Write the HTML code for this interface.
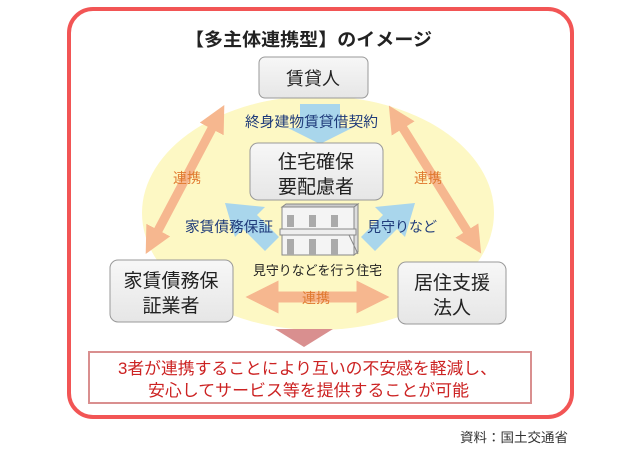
<!DOCTYPE html>
<html><head><meta charset="utf-8"><style>
body{margin:0;background:#fff;}
svg text{font-family:"Liberation Sans","Noto Sans CJK JP",sans-serif;}
</style></head><body>
<svg width="640" height="450" viewBox="0 0 640 450" xmlns="http://www.w3.org/2000/svg">
<defs>
<linearGradient id="g" x1="0" y1="0" x2="0" y2="1"><stop offset="0" stop-color="#f7f7f7"/><stop offset="1" stop-color="#e6e6e6"/></linearGradient>
<marker id="oa" viewBox="0 0 10 10" refX="5" refY="5" markerWidth="3" markerHeight="3" orient="auto-start-reverse"><path d="M0,0L10,5L0,10z" fill="#f6b78f"/></marker>
</defs>
<rect x="69" y="9" width="503" height="408" rx="24" fill="#fff" stroke="#f25555" stroke-width="4"/>
<text x="185" y="46" font-size="18" font-weight="bold" textLength="247" lengthAdjust="spacingAndGlyphs" fill="#222">【多主体連携型】のイメージ</text>
<ellipse cx="318" cy="213" rx="176" ry="117" fill="#fdf8c4"/>
<!-- blue arrows -->
<path d="M300,104h40v24h12l-32,16l-32,-16h12z" fill="#a9d6ec"/>
<path d="M225,203l40,4l-8,8l22,22l-14,14l-22,-22l-8,8z" fill="#a9d6ec"/>
<path d="M415,203l-40,4l8,8l-22,22l14,14l22,-22l8,8z" fill="#a9d6ec"/>
<!-- orange arrows -->
<line x1="218" y1="117" x2="152" y2="242" stroke="#f6b78f" stroke-width="9" marker-start="url(#oa)" marker-end="url(#oa)"/>
<line x1="396" y1="117" x2="474" y2="242" stroke="#f6b78f" stroke-width="9" marker-start="url(#oa)" marker-end="url(#oa)"/>
<line x1="262" y1="297" x2="373" y2="297" stroke="#f6b78f" stroke-width="11" marker-start="url(#oa)" marker-end="url(#oa)"/>
<text x="187" y="183" font-size="14" fill="#e07a30" text-anchor="middle">連携</text>
<text x="428" y="183" font-size="14" fill="#e07a30" text-anchor="middle">連携</text>
<text x="316" y="303" font-size="14" fill="#e07a30" text-anchor="middle">連携</text>
<!-- boxes -->
<rect x="259" y="57" width="109" height="41" rx="6" fill="url(#g)" stroke="#999"/>
<text x="313" y="85" font-size="18" text-anchor="middle" fill="#222">賃貸人</text>
<text x="245" y="127" font-size="14.5" textLength="133" lengthAdjust="spacingAndGlyphs" fill="#1f3b7a">終身建物賃貸借契約</text>
<rect x="250" y="143" width="133" height="57" rx="8" fill="url(#g)" stroke="#999"/>
<text x="316" y="168" font-size="19" text-anchor="middle" fill="#222">住宅確保</text>
<text x="316" y="193" font-size="19" text-anchor="middle" fill="#222">要配慮者</text>
<rect x="110" y="260" width="123" height="62" rx="8" fill="url(#g)" stroke="#999"/>
<text x="171" y="287" font-size="19" text-anchor="middle" fill="#222">家賃債務保</text>
<text x="171" y="312" font-size="19" text-anchor="middle" fill="#222">証業者</text>
<rect x="398" y="262" width="108" height="62" rx="8" fill="url(#g)" stroke="#999"/>
<text x="452" y="289" font-size="19" text-anchor="middle" fill="#222">居住支援</text>
<text x="452" y="314" font-size="19" text-anchor="middle" fill="#222">法人</text>
<text x="185" y="232" font-size="14.5" textLength="88" lengthAdjust="spacingAndGlyphs" fill="#1f3b7a">家賃債務保証</text>
<text x="367" y="232" font-size="14.5" textLength="70" lengthAdjust="spacingAndGlyphs" fill="#1f3b7a">見守りなど</text>
<!-- building -->
<rect x="282" y="207" width="72" height="48" fill="#f4f4f4" stroke="#888"/>
<path d="M282,207l4,-3h72l-4,3z" fill="#ccc" stroke="#888"/>
<path d="M354,207l4,-3v48l-4,3z" fill="#ddd" stroke="#888"/>
<rect x="280" y="229" width="76" height="6" fill="#eee" stroke="#888"/>
<g fill="#aaa"><rect x="287" y="215" width="7" height="12"/><rect x="309" y="215" width="7" height="12"/><rect x="331" y="215" width="7" height="12"/><rect x="287" y="239" width="7" height="16"/><rect x="309" y="239" width="7" height="16"/><rect x="331" y="239" width="7" height="16"/></g>
<line x1="349" y1="235" x2="358" y2="254" stroke="#888"/>
<text x="253" y="275" font-size="13" textLength="129" lengthAdjust="spacingAndGlyphs" fill="#222">見守りなどを行う住宅</text>
<!-- bottom -->
<path d="M275,329h58l-29,18z" fill="#d98f8f"/>
<rect x="89" y="352" width="442" height="51" fill="#fff" stroke="#d98f8f" stroke-width="2"/>
<text x="118" y="374" font-size="16.5" textLength="379" lengthAdjust="spacingAndGlyphs" fill="#cc2222">3者が連携することにより互いの不安感を軽減し、</text>
<text x="148" y="396" font-size="16.5" textLength="321" lengthAdjust="spacingAndGlyphs" fill="#cc2222">安心してサービス等を提供することが可能</text>
<text x="460" y="442" font-size="13" textLength="108" lengthAdjust="spacingAndGlyphs" fill="#333">資料：国土交通省</text>
</svg>
</body></html>
